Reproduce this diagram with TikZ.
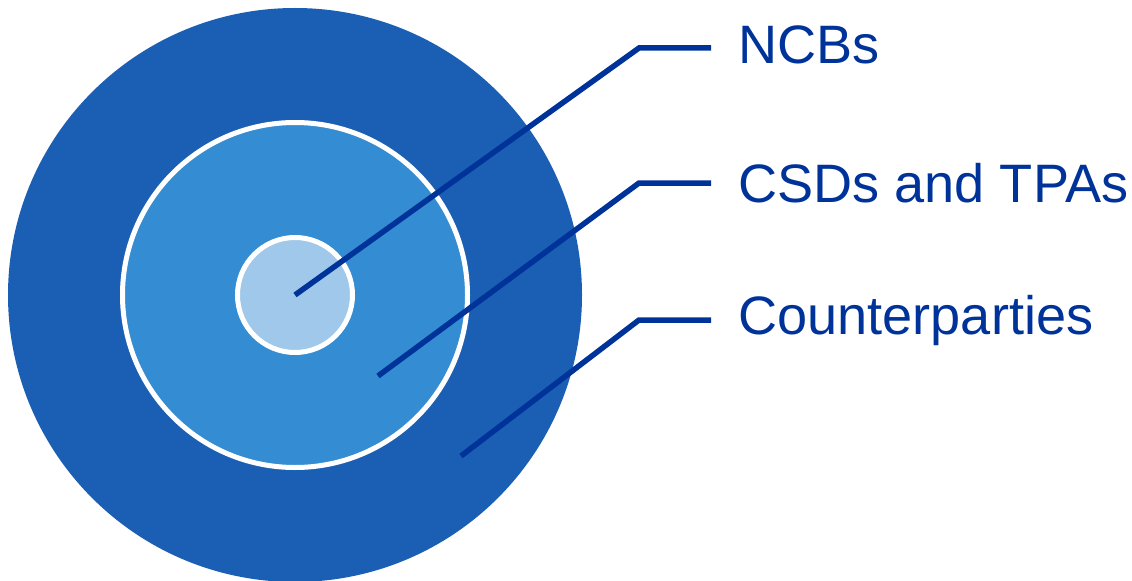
\documentclass[tikz,border=0pt]{standalone}
\usepackage{fontspec}
\setmainfont{Liberation Sans}
\definecolor{ringouter}{RGB}{27,95,180}
\definecolor{ringmiddle}{RGB}{52,140,210}
\definecolor{ringinner}{RGB}{160,200,234}
\definecolor{leaderblue}{RGB}{0,51,153}
\tikzset{
  leader/.style={draw=leaderblue, line width=0.11cm},
  ringlabel/.style={anchor=base west, inner sep=0pt, text=leaderblue, font=\fontsize{30.8}{36}\selectfont},
}
\begin{document}
\begin{tikzpicture}[x=0.02cm,y=-0.02cm]
            \useasboundingbox (0.000000,0.000000) rectangle (1132.000000,581.000000);
            
            % Drawing ring of counterparties
            \fill [ringouter] (295.000000,295.000000) circle (287.000000);%
            
            % Drawing ring of CSDs and TPAs
            \filldraw [fill=ringmiddle, draw=white, line width=0.1cm] (295.000000,295.000000) circle (172.500000);%
            
            % Drawing disc of NCBs
            \filldraw [fill=ringinner, draw=white, line width=0.1cm] (295.000000,295.000000) circle (57.500000);%
            
            % Marking leader points
            \coordinate (ncbs) at (295.000000,295.000000);%
            \coordinate (ncbsbend) at (639.000000,48.000000);%
            \coordinate (ncbstip) at (711.000000,48.000000);%
            \coordinate (csds) at (378.000000,376.000000);%
            \coordinate (csdsbend) at (639.000000,183.000000);%
            \coordinate (csdstip) at (711.000000,183.000000);%
            \coordinate (cpty) at (461.000000,456.000000);%
            \coordinate (cptybend) at (639.000000,320.000000);%
            \coordinate (cptytip) at (711.000000,320.000000);%
            
            % Labels
            \node [ringlabel] (ncbslabel) at (738.000000,64.000000) {NCBs};%
            \node [ringlabel] (csdslabel) at (738.000000,202.000000) {CSDs and TPAs};%
            \node [ringlabel] (cptylabel) at (738.000000,334.000000) {Counterparties};%
            
            % Drawing leaders
            \draw [leader] (ncbs) -- (ncbsbend) -- (ncbstip);%
            \draw [leader] (csds) -- (csdsbend) -- (csdstip);%
            \draw [leader] (cpty) -- (cptybend) -- (cptytip);%
\end{tikzpicture}
\end{document}
